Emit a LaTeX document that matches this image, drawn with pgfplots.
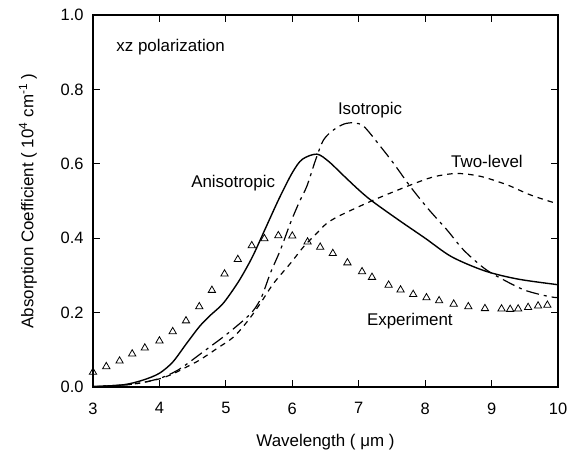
\documentclass[border=0pt]{standalone}
\usepackage{pgfplots}
\pgfplotsset{compat=1.18}
\usepackage{fontspec}
\setmainfont{Liberation Sans}
\begin{document}
\begin{tikzpicture}[font=\fontsize{17}{20}\selectfont]
\begin{axis}[
  scale only axis,
  width=465bp, height=372bp,
  xmin=3, xmax=10, ymin=0, ymax=1,
  xtick={3,4,...,10},
  ytick={0,0.2,0.4,0.6,0.8,1.0},
  every tick label/.append style={font=\fontsize{16.5}{20}\selectfont},
  label style={font=\fontsize{17}{20}\selectfont},
  yticklabel style={/pgf/number format/fixed,/pgf/number format/fixed zerofill,/pgf/number format/precision=1, xshift=-6bp},
  xticklabel style={yshift=-12bp},
  /pgf/number format/assume math mode=true,
  tick align=inside,
  major tick length=7bp,
  tick style={black, line width=1pt},
  axis line style={line width=1.1pt},
  xlabel={Wavelength ( μm )},
  ylabel={Absorption Coefficient ( 10\textsuperscript{4} cm\textsuperscript{-1} )},
  xlabel style={at={(axis description cs:0.5,-0.148)}, anchor=center},
  ylabel style={at={(axis description cs:-0.14,0.5)}, anchor=center},
  clip=false,
]
% Experiment
\addplot[only marks, mark=triangle, mark size=4.2bp, mark options={line width=0.8pt, black}] coordinates {
(3.0,0.040) (3.2,0.055) (3.4,0.070) (3.59,0.089) (3.78,0.105) (4.0,0.124)
(4.2,0.149) (4.4,0.178) (4.6,0.216) (4.79,0.260) (4.98,0.304) (5.18,0.343)
(5.39,0.380) (5.58,0.399) (5.79,0.407) (6.0,0.406) (6.23,0.390) (6.42,0.376)
(6.61,0.359) (6.83,0.334) (7.05,0.310) (7.2,0.295) (7.45,0.274) (7.63,0.261)
(7.82,0.249) (8.02,0.240) (8.21,0.232) (8.43,0.223) (8.65,0.216) (8.9,0.211)
(9.15,0.210) (9.28,0.209) (9.4,0.210) (9.55,0.214) (9.7,0.218) (9.84,0.220)
};
% Anisotropic
\addplot[black, line width=1.4pt, smooth, tension=0.5] coordinates {
(3.0,0.001) (3.46,0.006) (3.76,0.019) (4.0,0.037) (4.2,0.067) (4.4,0.115)
(4.6,0.162) (4.75,0.190) (4.9,0.214) (5.0,0.234) (5.2,0.286) (5.4,0.350)
(5.6,0.428) (5.8,0.506) (6.0,0.576) (6.15,0.612) (6.37,0.626) (6.55,0.606)
(6.75,0.572) (7.0,0.530) (7.2,0.500) (7.6,0.449) (8.0,0.400) (8.4,0.350)
(8.9,0.312) (9.4,0.290) (10.0,0.275)
};
% Isotropic
\addplot[black, line width=1.2pt, smooth, tension=0.5, dash pattern=on 13bp off 5bp on 3bp off 5bp] coordinates {
(3.0,0.001) (3.5,0.006) (3.75,0.012) (4.0,0.023) (4.2,0.038) (4.36,0.055)
(4.7,0.100) (5.0,0.140) (5.27,0.180) (5.42,0.207) (5.54,0.243) (5.67,0.306)
(5.82,0.368) (5.97,0.440) (6.1,0.495) (6.22,0.540) (6.35,0.610) (6.47,0.664)
(6.62,0.691) (6.78,0.707) (6.93,0.710) (7.08,0.700) (7.33,0.646) (7.53,0.600)
(7.78,0.538) (8.05,0.478) (8.33,0.422) (8.58,0.368) (8.89,0.319) (9.14,0.292)
(9.49,0.261) (9.84,0.244) (10.0,0.240)
};
% Two-level
\addplot[black, line width=1.2pt, smooth, tension=0.5, dash pattern=on 5.5bp off 5bp] coordinates {
(3.0,0.001) (3.5,0.006) (3.75,0.012) (4.0,0.022) (4.2,0.035) (4.4,0.053)
(4.61,0.073) (4.87,0.104) (5.12,0.135) (5.34,0.180) (5.52,0.225) (5.72,0.279)
(5.97,0.332) (6.17,0.377) (6.35,0.410) (6.52,0.440) (6.73,0.462) (7.23,0.503)
(7.78,0.543) (8.13,0.565) (8.48,0.574) (8.84,0.566) (9.24,0.543) (9.59,0.516)
(10.0,0.492)
};
\node[anchor=west] at (axis cs:3.3,0.914) {xz polarization};
\node at (axis cs:5.11,0.548) {Anisotropic};
\node at (axis cs:7.17,0.743) {Isotropic};
\node at (axis cs:8.93,0.606) {Two-level};
\node at (axis cs:7.77,0.178) {Experiment};
\end{axis}
\path ([shift={(-93bp,-66bp)}]current axis.south west) rectangle ([shift={(19bp,15bp)}]current axis.north east);
\end{tikzpicture}
\end{document}
